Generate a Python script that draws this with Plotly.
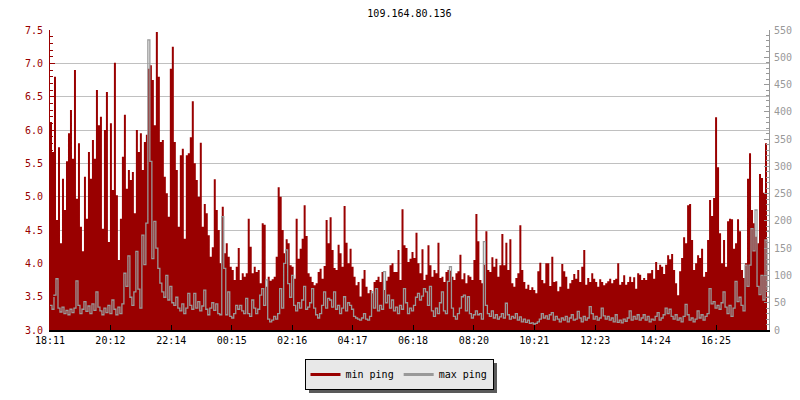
import plotly.graph_objects as go

title_text = "109.164.80.136"
start_label = "18:11"
step_minutes = 4
tick_labels = ["18:11", "20:12", "22:14", "00:15", "02:16", "04:17",
               "06:18", "08:20", "10:21", "12:23", "14:24", "16:25"]

# min ping (ms) - left axis
min_ping = [
    6.12, 5.67, 6.8, 4.65, 5.74, 4.3, 5.27, 4.8, 5.53, 5.95,
    6.3, 5.57, 6.9, 4.97, 5.8, 4.55, 4.18, 5.3, 4.67, 5.67,
    5.27, 5.85, 5.57, 6.6, 6.07, 6.2, 4.52, 6.0, 6.57, 4.32,
    6.1, 5.1, 7.01, 5.02, 4.05, 4.67, 5.6, 6.23, 5.12, 5.4,
    5.25, 5.37, 4.75, 6.0, 5.67, 5.95, 5.4, 5.82, 5.93, 6.92,
    6.97, 6.75, 6.07, 7.47, 6.8, 5.82, 5.85, 5.3, 5.05, 4.7,
    6.92, 7.25, 5.82, 5.4, 4.55, 5.62, 5.72, 4.37, 5.62, 5.65,
    5.89, 6.43, 5.5, 5.25, 5.0, 5.81, 4.55, 4.89, 4.75, 4.42,
    4.1, 4.24, 5.26, 4.8, 4.5, 4.0, 4.85, 4.15, 4.3, 4.1,
    3.95, 3.9, 3.75, 3.95, 4.23, 3.75, 3.85, 3.8, 3.85, 4.67,
    4.25, 3.85, 3.95, 3.87, 3.9, 3.7, 4.6, 4.58, 3.65, 3.8,
    3.74, 3.76, 3.8, 4.1, 5.14, 5.0, 4.5, 4.15, 4.36, 4.3,
    3.97, 3.95, 3.77, 4.67, 4.07, 4.22, 4.37, 4.87, 4.41, 3.85,
    3.8, 3.72, 3.67, 3.7, 3.87, 3.92, 3.77, 3.96, 4.65, 4.3,
    4.69, 4.2, 3.93, 3.9, 4.28, 4.15, 3.95, 4.86, 4.31, 4.0,
    4.22, 3.95, 3.8, 3.67, 3.72, 3.5, 3.77, 3.9, 3.65, 3.55,
    3.6, 3.55, 3.72, 3.75, 3.8, 3.72, 3.87, 3.6, 3.74, 3.8,
    3.97, 4.0, 3.87, 3.87, 4.2, 3.75, 4.81, 4.27, 4.23, 4.02,
    4.07, 4.17, 4.08, 4.46, 4.0, 3.85, 4.21, 3.75, 3.83, 4.27,
    3.97, 3.8, 3.9, 3.85, 4.31, 3.78, 3.8, 3.72, 3.87, 3.9,
    3.89, 3.8, 3.75, 3.85, 3.88, 4.13, 3.76, 3.85, 3.7, 3.82,
    3.8, 3.75, 4.05, 4.74, 4.33, 3.75, 3.7, 3.98, 4.48, 3.9,
    3.87, 4.09, 3.95, 4.07, 3.8, 3.97, 4.44, 3.97, 4.31, 3.9,
    4.36, 3.7, 3.65, 3.78, 3.85, 4.57, 3.9, 3.72, 3.62, 3.68,
    3.6, 3.64, 3.6, 3.55, 3.88, 4.01, 3.75, 3.7, 4.0, 4.0,
    3.66, 4.1, 3.72, 3.73, 3.58, 3.65, 3.99, 3.88, 3.8, 3.62,
    3.7, 3.75, 3.84, 3.77, 3.9, 3.72, 3.95, 4.2, 3.68, 3.78,
    3.72, 3.85, 3.77, 3.72, 3.65, 3.76, 3.72, 3.67, 3.7, 3.73,
    3.77, 3.7, 3.75, 3.77, 4.0, 3.68, 3.72, 3.82, 3.68, 3.72,
    3.8, 3.72, 3.79, 3.62, 3.85, 3.83, 3.75, 3.78, 3.75, 3.85,
    3.85, 3.9, 3.77, 4.02, 3.9, 3.98, 3.95, 3.84, 3.98, 4.12,
    4.06, 4.14, 3.9, 3.7, 3.52, 3.88, 4.08, 4.39, 4.3, 4.87,
    4.89, 4.35, 3.9, 4.0, 4.12, 4.08, 4.22, 3.8, 3.87, 4.35,
    4.95, 4.71, 4.98, 6.19, 5.44, 4.45, 4.0, 4.35, 3.95, 4.63,
    4.67, 4.66, 4.22, 4.3, 4.66, 4.48, 3.9, 3.78, 4.0, 5.27,
    5.65, 4.8, 4.6, 4.4, 4.3, 5.34, 5.28, 5.06, 5.8, 5.78,
]

# max ping (ms) - right axis
max_ping = [
    45, 38, 64, 94, 40, 33, 42, 30, 36, 28,
    38, 32, 40, 90, 45, 30, 38, 52, 34, 44,
    30, 48, 36, 70, 42, 35, 28, 40, 32, 45,
    30, 55, 38, 28, 42, 30, 48, 104, 80, 136,
    60, 45, 70, 144, 75, 40, 174, 120, 196, 532,
    309, 131, 199, 150, 113, 86, 70, 60, 100, 55,
    80, 50, 45, 60, 40, 35, 48, 30, 40, 67,
    45, 38, 67, 40, 52, 35, 44, 73, 38, 28,
    40, 50, 36, 48, 30, 28, 208, 113, 28, 70,
    25, 22, 30, 45, 38, 45, 35, 30, 58, 30,
    25, 55, 40, 30, 38, 64, 76, 45, 92, 20,
    15, 18, 25, 20, 30, 76, 40, 122, 147, 85,
    60, 100, 45, 35, 50, 40, 55, 80, 38, 42,
    50, 76, 40, 28, 22, 30, 45, 70, 40, 58,
    55, 42, 70, 38, 45, 30, 40, 61, 35, 50,
    45, 38, 25, 22, 20, 18, 22, 30, 20, 18,
    25, 70, 40, 76, 35, 45, 38, 107, 50, 64,
    40, 55, 35, 42, 30, 45, 38, 76, 50, 30,
    40, 35, 45, 60, 67, 55, 62, 76, 70, 45,
    80, 35, 25, 40, 30, 50, 70, 35, 30, 89,
    116, 40, 25, 20, 30, 40, 61, 64, 35, 61,
    30, 22, 28, 35, 28, 30, 20, 162, 45, 30,
    25, 35, 22, 28, 20, 24, 30, 22, 49, 28,
    20, 25, 22, 30, 18, 24, 15, 20, 14, 18,
    12, 13, 11, 12, 15, 20, 30, 22, 26, 20,
    28, 32, 18, 25, 20, 15, 22, 18, 25, 15,
    22, 28, 18, 20, 34, 22, 15, 25, 18, 22,
    43, 30, 20, 25, 18, 22, 40, 26, 20, 25,
    18, 22, 15, 28, 14, 18, 13, 20, 16, 22,
    35, 18, 25, 20, 28, 18, 22, 28, 18, 25,
    15, 20, 18, 25, 32, 18, 22, 28, 40, 30,
    38, 25, 20, 28, 18, 22, 15, 25, 47, 28,
    18, 22, 15, 20, 35, 22, 28, 18, 25, 30,
    76, 48, 52, 40, 45, 38, 50, 70, 42, 30,
    45, 25, 40, 89, 52, 60, 45, 35, 119, 80,
    119, 186, 145, 220, 80, 65, 100, 55, 165, 73,
]

RED = "#990000"
GRAY = "#999999"
FONT = "DejaVu Sans Mono"

# The page body has an 8px default margin, so work in screen pixels minus OFF.
OFF = 8
W, H = 800 - OFF, 400 - OFF
PLOT_L, PLOT_R, PLOT_T, PLOT_B = 50, 769, 30, 330   # screen pixels
ML, MR = PLOT_L - OFF, W - (PLOT_R - OFF)
MT, MB = PLOT_T - OFF, H - (PLOT_B - OFF)
PW, PH = PLOT_R - PLOT_L, PLOT_B - PLOT_T


def to_min(label):
    h, m = label.split(":")
    return int(h) * 60 + int(m)


def px_x(p):  # screen x -> paper x
    return (p - PLOT_L) / PW


def px_y(p):  # screen y -> paper y
    return (PLOT_B - p) / PH


t0 = to_min(start_label)
times = [i * step_minutes for i in range(len(min_ping))]
tick_vals = [(to_min(l) - t0) % 1440 for l in tick_labels]

fig = go.Figure()
fig.add_trace(go.Scatter(
    x=times, y=min_ping, mode="lines", line=dict(width=0, color=RED, shape="hv"),
    fill="tozeroy", fillcolor=RED, showlegend=False, yaxis="y", hoverinfo="skip"))
fig.add_trace(go.Scatter(
    x=times, y=max_ping, mode="lines", line=dict(width=1.3, color=GRAY, shape="hv"),
    showlegend=False, yaxis="y2", hoverinfo="skip"))
# legend entries
fig.add_trace(go.Scatter(x=[None], y=[None], mode="lines", name="min ping",
                         line=dict(color=RED, width=3)))
fig.add_trace(go.Scatter(x=[None], y=[None], mode="lines", name="max ping",
                         line=dict(color=GRAY, width=3)))

# legend drop shadow
leg_cx, leg_top, leg_w, leg_h = 399, 359, 188, 30
leg_left = leg_cx - leg_w / 2
fig.add_shape(type="rect", xref="paper", yref="paper",
              x0=px_x(leg_left + 4), x1=px_x(leg_left + leg_w + 4),
              y0=px_y(leg_top + 4), y1=px_y(leg_top + leg_h + 4),
              fillcolor="#5a5a5a", line=dict(width=0), layer="above")

fig.update_layout(
    width=W, height=H,
    margin=dict(l=ML, r=MR, t=MT, b=MB, autoexpand=False),
    paper_bgcolor="white", plot_bgcolor="white",
    font=dict(family=FONT, size=10, color="black"),
    title=dict(text=title_text, x=0.5, xref="paper", xanchor="center",
               yref="container", y=1 - (13 - OFF) / H, yanchor="middle",
               pad=dict(t=0, b=0), automargin=False,
               font=dict(family=FONT, size=10, color="black")),
    xaxis=dict(
        range=[0, 1440], tickvals=tick_vals, ticktext=tick_labels,
        ticks="inside", ticklen=5, tickcolor="black", tickwidth=1,
        showline=True, linecolor="black", linewidth=2,
        showgrid=False, zeroline=False, automargin=False,
        ticklabelstandoff=0,
        tickfont=dict(family=FONT, size=10, color="black")),
    yaxis=dict(
        range=[3.0, 7.5], dtick=0.5, tickformat=".1f",
        ticks="inside", ticklen=5, tickcolor=RED,
        minor=dict(dtick=0.1, ticks="inside", ticklen=3, tickcolor=RED, showgrid=False),
        showline=True, linecolor=RED, linewidth=1,
        showgrid=True, gridcolor="#c0c0c0", gridwidth=1, zeroline=False,
        automargin=False, ticklabelstandoff=4,
        tickfont=dict(family=FONT, size=10, color=RED)),
    yaxis2=dict(
        range=[0, 550], dtick=50, overlaying="y", side="right",
        ticks="inside", ticklen=5, tickcolor=GRAY,
        minor=dict(dtick=10, ticks="inside", ticklen=3, tickcolor=GRAY, showgrid=False),
        showline=True, linecolor=GRAY, linewidth=1,
        showgrid=False, zeroline=False, automargin=False,
        ticklabelstandoff=2,
        tickfont=dict(family=FONT, size=10, color=GRAY)),
    legend=dict(
        orientation="h", x=px_x(leg_cx), xanchor="center",
        y=px_y(leg_top), yanchor="top",
        bgcolor="#e8e8e8", bordercolor="black", borderwidth=1,
        font=dict(family=FONT, size=10, color="black"),
        itemwidth=30, tracegroupgap=0),
)

fig.write_html("out.html")
